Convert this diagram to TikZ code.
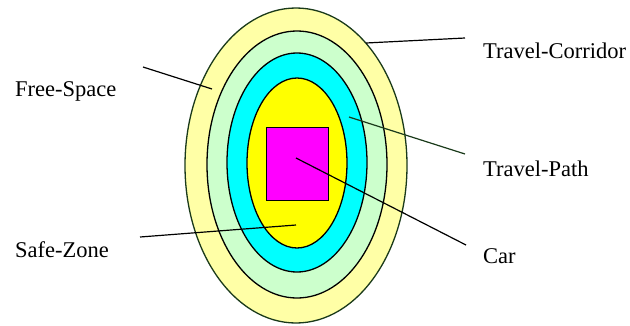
\documentclass[tikz,border=0pt]{standalone}
\usepackage{fontspec}
\setmainfont{Liberation Serif}
\definecolor{paleyellow}{HTML}{FFFFA6}
\definecolor{palegreen}{HTML}{CCFFCC}
\definecolor{ringcyan}{HTML}{00FFFF}
\definecolor{ringyellow}{HTML}{FFFF00}
\definecolor{carmagenta}{HTML}{FF00FF}
\definecolor{darkline}{HTML}{1A3A1A}
\begin{document}
\begin{tikzpicture}[x=1pt,y=-1pt,
  lbl/.style={anchor=base west,inner sep=0pt,font=\fontsize{22.5}{27}\selectfont},
  ring/.style={draw=black,line width=1.3pt},
  leader/.style={draw=black,line width=1.2pt}]
\useasboundingbox (0,0) rectangle (630,325);
% rings
\filldraw[ring,draw=darkline,fill=paleyellow] (296,165.5) ellipse [x radius=111,y radius=157.5];
\filldraw[ring,fill=palegreen] (297,164.5) ellipse [x radius=90,y radius=133.5];
\filldraw[ring,fill=ringcyan] (297,162.5) ellipse [x radius=70,y radius=109.5];
\filldraw[ring,fill=ringyellow] (297,163) ellipse [x radius=50,y radius=85];
\node[draw=black,line width=1.3pt,fill=carmagenta,inner sep=0pt,minimum width=62pt,minimum height=73pt,anchor=north west] (car) at (266,127) {};
% labels
\node[lbl] (fs) at (15,96) {Free-Space};
\node[lbl] (sz) at (15,257) {Safe-Zone};
\node[lbl] (tc) at (483,58) {Travel-Corridor};
\node[lbl] (tp) at (483,176) {Travel-Path};
\node[lbl] (cr) at (483,263) {Car};
% leader ends
\coordinate (fsA) at (143,67);  \coordinate (fsB) at (212,89);
\coordinate (szA) at (140,237); \coordinate (szB) at (296,225);
\coordinate (tcA) at (465,38);  \coordinate (tcB) at (366,43);
\coordinate (tpA) at (465,154); \coordinate (tpB) at (349,117);
\coordinate (crA) at (466,245); \coordinate (crB) at (296,158);
\draw[leader] (fsA) -- (fsB);
\draw[leader] (szA) -- (szB);
\draw[leader] (tcA) -- (tcB);
\draw[leader,draw=darkline] (tpA) -- (tpB);
\draw[leader] (crA) -- (crB);
\end{tikzpicture}
\end{document}
